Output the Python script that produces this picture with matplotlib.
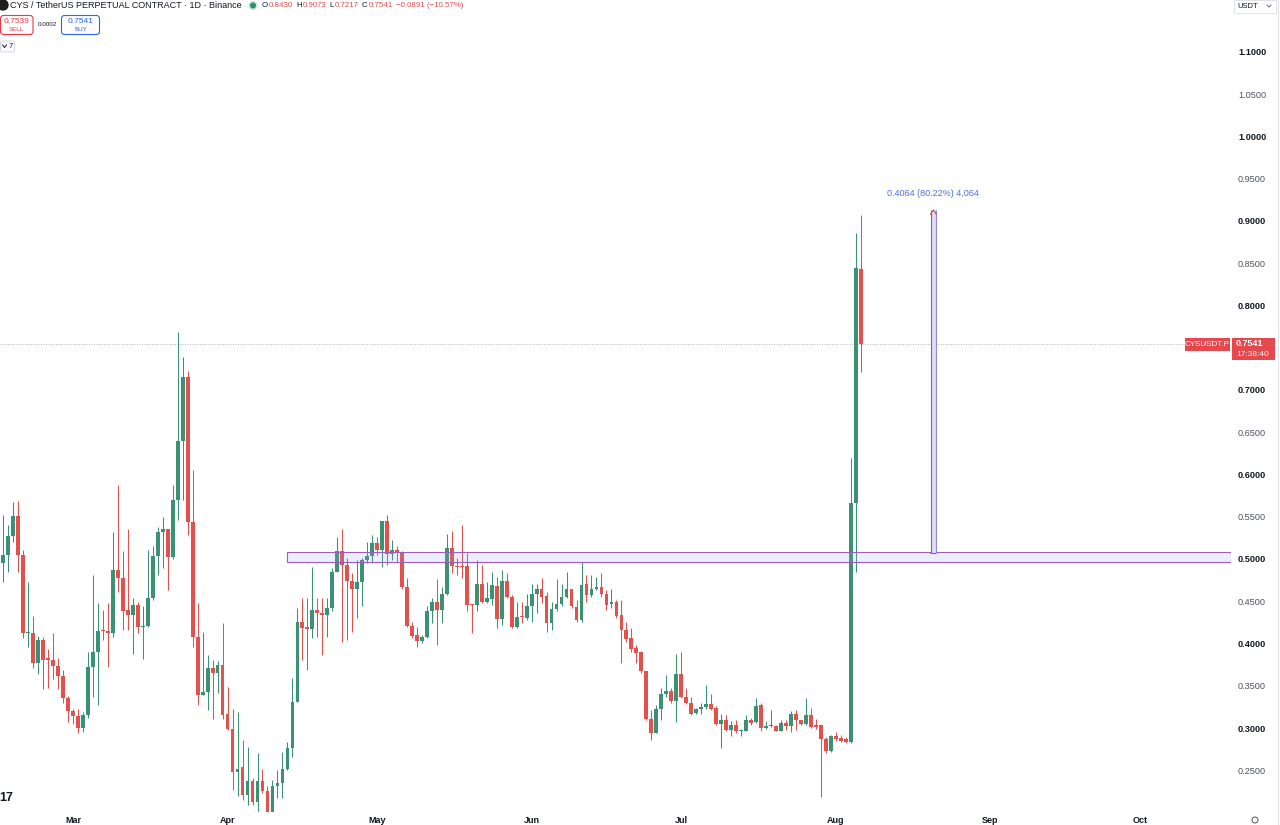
import numpy as np
import pandas as pd
import matplotlib
matplotlib.use("Agg")
import matplotlib.pyplot as plt
import matplotlib.dates as mdates
from matplotlib.patches import Rectangle, FancyBboxPatch, Circle

plt.rcParams['font.family'] = ['Liberation Sans', 'DejaVu Sans']

# daily candles, first one on 2025-02-15
start_date = "2025-02-15"

opens = [0.495, 0.505, 0.527, 0.551, 0.505, 0.412, 0.412, 0.377, 0.404, 0.383,
         0.381, 0.373, 0.362, 0.336, 0.320, 0.314, 0.300, 0.315, 0.372, 0.390,
         0.416, 0.415, 0.412, 0.487, 0.477, 0.440, 0.434, 0.446, 0.419, 0.421,
         0.454, 0.503, 0.532, 0.536, 0.502, 0.570, 0.640, 0.715, 0.544, 0.408,
         0.339, 0.343, 0.371, 0.365, 0.375, 0.316, 0.299, 0.248, 0.254, 0.221,
         0.237, 0.212, 0.237, 0.225, 0.201, 0.231, 0.235, 0.252, 0.276, 0.331,
         0.426, 0.420, 0.417, 0.440, 0.436, 0.434, 0.442, 0.485, 0.510, 0.493,
         0.474, 0.464, 0.473, 0.499, 0.504, 0.519, 0.511, 0.545, 0.506, 0.511,
         0.507, 0.467, 0.421, 0.410, 0.403, 0.408, 0.438, 0.449, 0.440, 0.459,
         0.513, 0.492, 0.492, 0.492, 0.446, 0.445, 0.471, 0.449, 0.453, 0.468,
         0.429, 0.474, 0.455, 0.419, 0.432, 0.430, 0.444, 0.459, 0.465, 0.456,
         0.424, 0.441, 0.447, 0.455, 0.465, 0.443, 0.428, 0.470, 0.457, 0.464,
         0.467, 0.458, 0.447, 0.449, 0.434, 0.416, 0.406, 0.395, 0.390, 0.367,
         0.311, 0.294, 0.322, 0.340, 0.344, 0.332, 0.364, 0.337, 0.330, 0.318,
         0.322, 0.325, 0.328, 0.324, 0.305, 0.310, 0.298, 0.304, 0.296, 0.297,
         0.310, 0.307, 0.327, 0.300, 0.302, 0.302, 0.297, 0.306, 0.302, 0.317,
         0.309, 0.305, 0.315, 0.303, 0.303, 0.287, 0.273, 0.290, 0.288, 0.287,
         0.283, 0.566, 0.8430]

highs = [0.552, 0.540, 0.567, 0.569, 0.511, 0.473, 0.432, 0.409, 0.408, 0.394,
         0.412, 0.383, 0.369, 0.338, 0.323, 0.323, 0.319, 0.390, 0.481, 0.448,
         0.440, 0.448, 0.532, 0.588, 0.509, 0.536, 0.454, 0.449, 0.444, 0.511,
         0.515, 0.538, 0.550, 0.536, 0.588, 0.769, 0.739, 0.722, 0.605, 0.448,
         0.414, 0.386, 0.381, 0.379, 0.424, 0.349, 0.323, 0.319, 0.286, 0.278,
         0.241, 0.270, 0.252, 0.231, 0.239, 0.250, 0.272, 0.284, 0.359, 0.442,
         0.454, 0.454, 0.491, 0.454, 0.454, 0.454, 0.489, 0.526, 0.535, 0.501,
         0.483, 0.499, 0.501, 0.520, 0.528, 0.526, 0.545, 0.552, 0.522, 0.515,
         0.509, 0.477, 0.426, 0.420, 0.410, 0.444, 0.454, 0.476, 0.467, 0.530,
         0.533, 0.501, 0.540, 0.507, 0.447, 0.499, 0.493, 0.473, 0.485, 0.479,
         0.487, 0.483, 0.457, 0.449, 0.449, 0.459, 0.471, 0.471, 0.478, 0.461,
         0.449, 0.476, 0.471, 0.485, 0.465, 0.452, 0.497, 0.481, 0.481, 0.479,
         0.483, 0.463, 0.465, 0.451, 0.452, 0.426, 0.418, 0.398, 0.391, 0.367,
         0.321, 0.327, 0.347, 0.363, 0.347, 0.388, 0.390, 0.347, 0.337, 0.324,
         0.329, 0.351, 0.340, 0.326, 0.317, 0.315, 0.308, 0.310, 0.299, 0.315,
         0.312, 0.336, 0.329, 0.308, 0.321, 0.304, 0.310, 0.310, 0.320, 0.321,
         0.310, 0.336, 0.324, 0.311, 0.303, 0.289, 0.292, 0.295, 0.292, 0.289,
         0.619, 0.886, 0.9073]

lows = [0.473, 0.485, 0.520, 0.485, 0.406, 0.396, 0.371, 0.364, 0.346, 0.347,
        0.358, 0.346, 0.330, 0.307, 0.305, 0.294, 0.295, 0.312, 0.337, 0.327,
        0.404, 0.372, 0.408, 0.461, 0.416, 0.416, 0.388, 0.412, 0.382, 0.420,
        0.452, 0.481, 0.489, 0.463, 0.500, 0.546, 0.570, 0.528, 0.396, 0.327,
        0.339, 0.321, 0.311, 0.341, 0.311, 0.298, 0.227, 0.219, 0.215, 0.209,
        0.209, 0.201, 0.223, 0.201, 0.199, 0.217, 0.217, 0.250, 0.266, 0.331,
        0.380, 0.369, 0.406, 0.408, 0.386, 0.408, 0.438, 0.485, 0.402, 0.404,
        0.414, 0.430, 0.444, 0.495, 0.495, 0.505, 0.491, 0.493, 0.499, 0.497,
        0.465, 0.420, 0.406, 0.396, 0.401, 0.406, 0.424, 0.398, 0.424, 0.457,
        0.483, 0.481, 0.477, 0.438, 0.412, 0.438, 0.448, 0.448, 0.446, 0.418,
        0.422, 0.454, 0.418, 0.418, 0.424, 0.428, 0.426, 0.436, 0.448, 0.414,
        0.416, 0.438, 0.444, 0.454, 0.442, 0.426, 0.426, 0.449, 0.455, 0.463,
        0.455, 0.440, 0.442, 0.430, 0.377, 0.402, 0.390, 0.377, 0.365, 0.309,
        0.286, 0.294, 0.309, 0.337, 0.329, 0.307, 0.335, 0.328, 0.315, 0.317,
        0.317, 0.322, 0.321, 0.304, 0.276, 0.296, 0.290, 0.294, 0.291, 0.296,
        0.304, 0.306, 0.296, 0.299, 0.301, 0.296, 0.296, 0.298, 0.295, 0.298,
        0.303, 0.303, 0.300, 0.299, 0.218, 0.271, 0.272, 0.285, 0.284, 0.282,
        0.282, 0.485, 0.7217]

closes = [0.505, 0.527, 0.551, 0.505, 0.412, 0.413, 0.377, 0.404, 0.381, 0.381,
          0.373, 0.362, 0.336, 0.320, 0.314, 0.300, 0.315, 0.372, 0.390, 0.415,
          0.415, 0.413, 0.487, 0.478, 0.439, 0.434, 0.446, 0.419, 0.421, 0.454,
          0.503, 0.532, 0.536, 0.502, 0.570, 0.640, 0.715, 0.544, 0.408, 0.339,
          0.343, 0.371, 0.365, 0.375, 0.315, 0.299, 0.248, 0.252, 0.221, 0.237,
          0.212, 0.237, 0.225, 0.201, 0.231, 0.235, 0.252, 0.276, 0.331, 0.426,
          0.418, 0.417, 0.440, 0.436, 0.434, 0.442, 0.485, 0.510, 0.493, 0.474,
          0.464, 0.473, 0.499, 0.504, 0.519, 0.511, 0.545, 0.506, 0.511, 0.507,
          0.467, 0.421, 0.409, 0.403, 0.408, 0.438, 0.449, 0.440, 0.459, 0.513,
          0.492, 0.491, 0.490, 0.446, 0.445, 0.471, 0.449, 0.454, 0.469, 0.429,
          0.474, 0.455, 0.419, 0.431, 0.431, 0.444, 0.459, 0.465, 0.455, 0.424,
          0.441, 0.447, 0.455, 0.465, 0.444, 0.428, 0.469, 0.457, 0.465, 0.467,
          0.458, 0.446, 0.449, 0.433, 0.416, 0.405, 0.394, 0.389, 0.367, 0.311,
          0.294, 0.322, 0.340, 0.344, 0.332, 0.364, 0.337, 0.330, 0.317, 0.322,
          0.325, 0.328, 0.323, 0.305, 0.310, 0.298, 0.304, 0.296, 0.297, 0.309,
          0.306, 0.326, 0.300, 0.302, 0.3025, 0.297, 0.306, 0.302, 0.317, 0.309,
          0.305, 0.315, 0.301, 0.301, 0.287, 0.273, 0.290, 0.287, 0.285, 0.283,
          0.566, 0.844, 0.7541]

price_ticks = [0.25, 0.30, 0.35, 0.40, 0.45, 0.50, 0.55, 0.60, 0.65, 0.70,
               0.80, 0.85, 0.90, 0.95, 1.00, 1.05, 1.10]

# support zone and price range measure
zone_low, zone_high = 0.4961, 0.5079
zone_start_day = 56.9
measure_from, measure_to = 0.5066, 0.9130
measure_day = 186.1
last_price = 0.7541

GREEN = "#3a9273"
RED = "#e4504c"
DARK = "#131722"
W, H = 1280, 825

opens = np.array(opens)
highs = np.array(highs)
lows = np.array(lows)
closes = np.array(closes)
dates = pd.date_range(start_date, periods=len(opens), freq="D")
x = mdates.date2num(dates)
x0 = x[0]

fig = plt.figure(figsize=(12.8, 8.25), dpi=100)
ax = fig.add_axes([0, 13 / H, 1231 / W, 812 / H])
ax.set_xlim(x0 - 0.66, x0 + 246.3)
ax.set_ylim(0.2006, 1.1615)

colors = np.where(closes >= opens, GREEN, RED)
ax.vlines(x, lows, highs, colors=colors, lw=0.75, zorder=3)
bottoms = np.minimum(opens, closes)
heights = np.maximum(np.abs(closes - opens), 0.0012)
ax.bar(x, heights, bottom=bottoms, width=0.75, color=colors, lw=0, zorder=4)

# zone rectangle
ax.add_patch(Rectangle((x0 + zone_start_day, zone_low), 246.3 - zone_start_day,
                       zone_high - zone_low, facecolor=(0.6, 0.62, 0.97, 0.18),
                       edgecolor="#a05cbc", lw=0.8, zorder=5))

# price range measure
mx = x0 + measure_day
ax.add_patch(Rectangle((mx, measure_from), 1.0, measure_to - measure_from,
                       facecolor="#dedcf8", edgecolor="none", zorder=5))
ax.vlines([mx], measure_from, measure_to, colors="#b3566f", lw=0.8, zorder=6)
ax.vlines([mx + 1.0], measure_from, measure_to, colors="#9389d8", lw=0.8, zorder=6)
ax.hlines([measure_from], mx - 0.1, mx + 1.1, colors="#b3566f", lw=0.8, zorder=6)
ax.plot([mx - 0.1, mx + 0.5, mx + 1.1], [measure_to - 0.005, measure_to, measure_to - 0.005],
        color="#c0504d", lw=0.8, zorder=6)
ax.text(mx + 0.5, 0.932, "0.4064 (80.22%) 4,064", color="#4f6fe0", fontsize=6.5,
        ha="center", va="center", zorder=6)

# last price line
ax.axhline(last_price, color="#b2b5be", lw=0.7, ls=(0, (1, 1.6)), zorder=1)

for s in ax.spines.values():
    s.set_visible(False)
ax.yaxis.tick_right()
ax.set_yticks(price_ticks)
ax.set_yticklabels([f"{t:.4f}" for t in price_ticks])
ax.tick_params(axis="y", length=0, pad=5, labelsize=6.6)
for t, lab in zip(price_ticks, ax.get_yticklabels()):
    if round(t * 100) % 10 == 0:
        lab.set_fontweight("bold")
        lab.set_color(DARK)
    else:
        lab.set_color("#50535e")

ax.xaxis.set_major_locator(mdates.MonthLocator())
ax.xaxis.set_major_formatter(mdates.DateFormatter("%b"))
ax.tick_params(axis="x", length=0, pad=3, labelsize=6.5, colors=DARK)
for lab in ax.get_xticklabels():
    lab.set_fontweight("bold")

# overlay in pixel units for the chart furniture
ov = fig.add_axes([0, 0, 1, 1], zorder=10)
ov.set_xlim(0, W)
ov.set_ylim(H, 0)
ov.axis("off")

ov.add_patch(Circle((3, 5), 5, color="#1e1e1e"))
ov.text(10, 5.5, "CYS / TetherUS PERPETUAL CONTRACT · 1D · Binance", fontsize=6.5,
        color=DARK, va="center", ha="left")
ov.add_patch(Circle((253, 5.5), 4, color="#c9e8dc"))
ov.add_patch(Circle((253, 5.5), 2.3, color="#2e8f6f"))

renderer = fig.canvas.get_renderer()
cx = 262
parts = [("O", DARK, 1.0), ("0.8430", RED, 3.0), ("H", DARK, 1.0), ("0.9073", RED, 3.0),
         ("L", DARK, 1.0), ("0.7217", RED, 3.0), ("C", DARK, 1.0), ("0.7541", RED, 3.0),
         ("−0.0891 (−10.57%)", RED, 0)]
for s, c, gap in parts:
    t = ov.text(cx, 5.5, s, color=c, fontsize=5.7, va="center", ha="left")
    cx += t.get_window_extent(renderer=renderer).width + gap

# sell / buy boxes
ov.add_patch(FancyBboxPatch((0.5, 15.5), 32.5, 19, boxstyle="round,pad=0,rounding_size=3",
                            fc="white", ec="#f23645", lw=0.8))
ov.text(16.5, 21.5, "0.7539", color="#f23645", fontsize=6, ha="center", va="center")
ov.text(16.5, 29.5, "SELL", color="#f23645", fontsize=4.5, ha="center", va="center")
ov.text(47.5, 25, "0.0002", color=DARK, fontsize=4.5, ha="center", va="center")
ov.add_patch(FancyBboxPatch((61.5, 15.5), 38, 19, boxstyle="round,pad=0,rounding_size=3",
                            fc="white", ec="#2962ff", lw=0.8))
ov.text(80.5, 21.5, "0.7541", color="#2962ff", fontsize=6, ha="center", va="center")
ov.text(80.5, 29.5, "BUY", color="#2962ff", fontsize=4.5, ha="center", va="center")
ov.add_patch(FancyBboxPatch((0.5, 41), 14, 11, boxstyle="round,pad=0,rounding_size=2",
                            fc="white", ec="#d1d4dc", lw=0.7))
ov.plot([2.5, 4.5, 6.5], [45, 47.5, 45], color=DARK, lw=0.7)
ov.text(9, 46.5, "7", color=DARK, fontsize=5.5, ha="left", va="center")

# currency box top right
ov.add_patch(Rectangle((1234, 0), 42, 13, fc="white", ec="#e0e3eb", lw=0.7))
ov.text(1237, 6, "USDT", color=DARK, fontsize=5.5, ha="left", va="center")
ov.plot([1267, 1269, 1271], [5, 7, 5], color="#50535e", lw=0.6)
ov.plot([1277.5, 1277.5], [0, H], color="#e0e3eb", lw=0.8)

# last price labels
ov.add_patch(Rectangle((1185, 338), 45, 12.5, fc="#e5484d", ec="none"))
ov.text(1207.5, 344.5, "CYSUSDT.P", color="white", fontsize=5.8, ha="center", va="center")
ov.add_patch(Rectangle((1232, 338), 43, 22, fc="#e5484d", ec="none"))
ov.text(1236, 344, "0.7541", color="white", fontsize=6.5, fontweight="bold", ha="left", va="center")
ov.text(1236, 354.5, "17:38:40", color="white", fontsize=6, ha="left", va="center")

ov.add_patch(Circle((1255, 820), 3, fc="none", ec="#50535e", lw=0.7))
ov.text(-1, 798, "17", color=DARK, fontsize=9, fontweight="bold", ha="left", va="center")

fig.savefig("out.png", dpi=100, facecolor="white")
